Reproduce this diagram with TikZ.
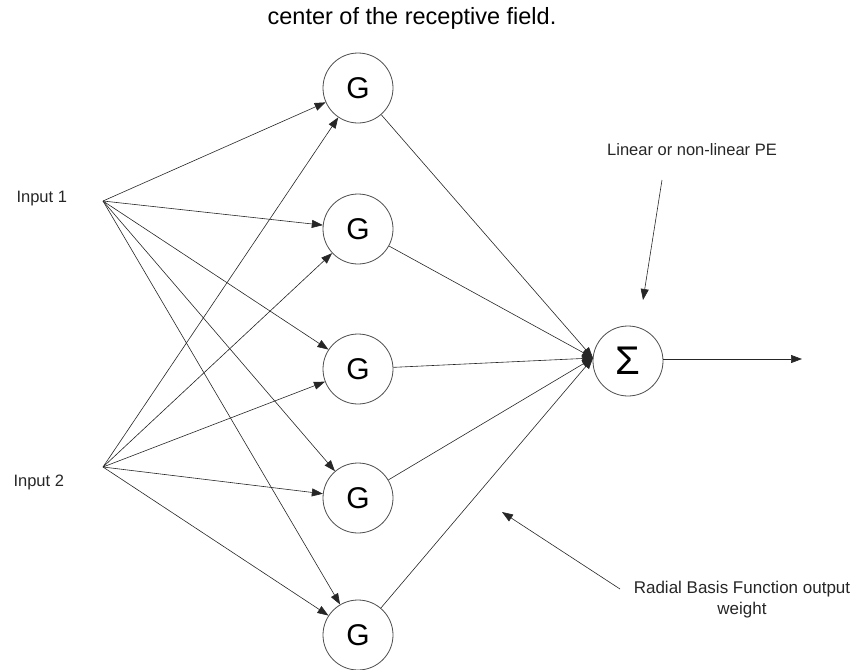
\documentclass[tikz,border=0pt]{standalone}
\usepackage{fontspec}
\setmainfont{Liberation Sans}
\usetikzlibrary{arrows.meta}
\begin{document}
\begin{tikzpicture}[x=1pt,y=-1pt,
  unit/.style={circle,draw=black!70,line width=0.8pt,minimum size=70pt,inner sep=0pt,font=\fontsize{30}{30}\selectfont},
  conn/.style={draw=black!85,line width=0.6pt,-{Triangle[length=11pt,width=8pt]}},
  lbl/.style={font=\fontsize{16.5}{20}\selectfont,text=black!85,align=center}]
\useasboundingbox (0,0) rectangle (855,670);
\node[font=\fontsize{23.5}{26}\selectfont] (title) at (412,18) {center of the receptive field.};
\node[unit] (g1) at (358,88) {G};
\node[unit] (g2) at (358,229) {G};
\node[unit] (g3) at (358,369) {G};
\node[unit] (g4) at (358,498) {G};
\node[unit] (g5) at (358,635) {G};
\node[unit,font=\fontsize{40}{40}\selectfont] (s) at (628,361) {Σ};
\coordinate (in1) at (103,201);
\coordinate (in2) at (103,467);
\coordinate (sin) at (593,358);
\node[lbl,anchor=west] (l1) at (13,199) {Input 1};
\node[lbl,anchor=west] (l2) at (10,482) {Input 2};
\foreach \g in {g1,g2,g3,g4,g5}{
  \draw[conn] (in1) -- (\g);
  \draw[conn] (in2) -- (\g);
  \draw[conn] (\g) -- (sin);
}
\coordinate (out) at (802,359);
\draw[conn] (s.east |- out) -- (out);
\node[lbl] (pe) at (692,150) {Linear or non-linear PE};
\coordinate (pe1) at (662,180);
\coordinate (pe2) at (643,300);
\draw[conn] (pe1) -- (pe2);
\node[lbl,font=\fontsize{17}{21}\selectfont] (rb) at (742,600) {Radial Basis Function output\\weight};
\coordinate (rb1) at (620,589);
\coordinate (rb2) at (502,512);
\draw[conn] (rb1) -- (rb2);
\end{tikzpicture}
\end{document}
